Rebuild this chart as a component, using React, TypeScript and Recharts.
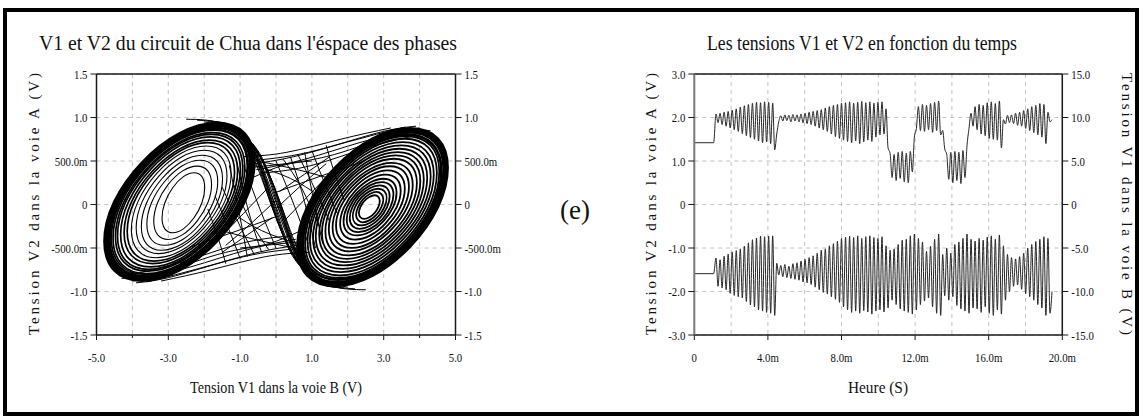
import React from 'react';
import {
  ScatterChart,
  Scatter,
  LineChart,
  Line,
  XAxis,
  YAxis,
  CartesianGrid,
  ReferenceLine,
} from 'recharts';

// ---------------- Phase portrait (V1 on x, V2 on y) ----------------
const phaseXTicks = [-5, -4, -3, -2, -1, 0, 1, 2, 3, 4, 5];
const phaseXLabels = ['-5.0', '', '-3.0', '', '-1.0', '', '1.0', '', '3.0', '', '5.0'];
const phaseYTicks = [-1.5, -1, -0.5, 0, 0.5, 1, 1.5];
const phaseYLabels = ['-1.5', '-1.0', '-500.0m', '0', '500.0m', '1.0', '1.5'];

// loops of the left scroll (V1, V2), inner to outer
const leftScrollLoops: [number, number][][] = [
  [[-1.96, 0.38], [-1.96, 0.02], [-2.58, -0.34], [-3.2, -0.34], [-3.2, 0.02], [-2.58, 0.38]],
  [[-1.76, 0.46], [-1.76, 0.02], [-2.6, -0.42], [-3.44, -0.42], [-3.44, 0.02], [-2.6, 0.46]],
  [[-1.58, 0.53], [-1.58, 0.02], [-2.61, -0.49], [-3.64, -0.49], [-3.64, 0.02], [-2.61, 0.53]],
  [[-1.44, 0.59], [-1.44, 0.02], [-2.62, -0.55], [-3.8, -0.55], [-3.8, 0.02], [-2.62, 0.59]],
  [[-1.31, 0.65], [-1.31, 0.03], [-2.63, -0.59], [-3.95, -0.59], [-3.95, 0.03], [-2.63, 0.65]],
  [[-1.19, 0.7], [-1.19, 0.03], [-2.64, -0.64], [-4.09, -0.64], [-4.09, 0.03], [-2.64, 0.7]],
  [[-1.09, 0.74], [-1.09, 0.03], [-2.65, -0.68], [-4.21, -0.68], [-4.21, 0.03], [-2.65, 0.74]],
  [[-1.0, 0.77], [-1.0, 0.03], [-2.65, -0.71], [-4.3, -0.71], [-4.3, 0.03], [-2.65, 0.77]],
  [[-0.92, 0.81], [-0.92, 0.03], [-2.66, -0.75], [-4.4, -0.75], [-4.4, 0.03], [-2.66, 0.81]],
  [[-0.85, 0.84], [-0.85, 0.03], [-2.67, -0.78], [-4.49, -0.78], [-4.49, 0.03], [-2.67, 0.84]],
  [[-0.79, 0.86], [-0.79, 0.03], [-2.67, -0.8], [-4.55, -0.8], [-4.55, 0.03], [-2.67, 0.86]],
  [[-0.72, 0.89], [-0.72, 0.03], [-2.67, -0.83], [-4.62, -0.83], [-4.62, 0.03], [-2.67, 0.89]],
  [[-0.69, 0.9], [-0.69, 0.03], [-2.68, -0.84], [-4.67, -0.84], [-4.67, 0.03], [-2.68, 0.9]],
  [[-0.64, 0.92], [-0.64, 0.03], [-2.68, -0.86], [-4.72, -0.86], [-4.72, 0.03], [-2.68, 0.92]],
  [[-0.6, 0.94], [-0.6, 0.03], [-2.68, -0.88], [-4.76, -0.88], [-4.76, 0.03], [-2.68, 0.94]],
  [[-0.57, 0.95], [-0.57, 0.03], [-2.69, -0.89], [-4.81, -0.89], [-4.81, 0.03], [-2.69, 0.95]],
  [[-0.54, 0.96], [-0.54, 0.03], [-2.69, -0.9], [-4.84, -0.9], [-4.84, 0.03], [-2.69, 0.96]],
  [[-0.51, 0.975], [-0.51, 0.03], [-2.69, -0.915], [-4.87, -0.915], [-4.87, 0.03], [-2.69, 0.975]],
];

// loops of the right scroll (V1, V2), inner to outer
const rightScrollLoops: [number, number][][] = [
  [[2.9, 0.11], [2.9, -0.03], [2.6, -0.17], [2.3, -0.17], [2.3, -0.03], [2.6, 0.11]],
  [[3.0, 0.15], [3.0, -0.03], [2.61, -0.21], [2.22, -0.21], [2.22, -0.03], [2.61, 0.15]],
  [[3.1, 0.19], [3.1, -0.03], [2.61, -0.25], [2.12, -0.25], [2.12, -0.03], [2.61, 0.19]],
  [[3.19, 0.23], [3.19, -0.03], [2.61, -0.29], [2.03, -0.29], [2.03, -0.03], [2.61, 0.23]],
  [[3.3, 0.27], [3.3, -0.03], [2.62, -0.33], [1.94, -0.33], [1.94, -0.03], [2.62, 0.27]],
  [[3.39, 0.31], [3.39, -0.03], [2.62, -0.37], [1.85, -0.37], [1.85, -0.03], [2.62, 0.31]],
  [[3.51, 0.36], [3.51, -0.03], [2.63, -0.42], [1.75, -0.42], [1.75, -0.03], [2.63, 0.36]],
  [[3.63, 0.41], [3.63, -0.03], [2.63, -0.47], [1.63, -0.47], [1.63, -0.03], [2.63, 0.41]],
  [[3.75, 0.46], [3.75, -0.03], [2.64, -0.52], [1.53, -0.52], [1.53, -0.03], [2.64, 0.46]],
  [[3.86, 0.5], [3.86, -0.03], [2.64, -0.56], [1.42, -0.56], [1.42, -0.03], [2.64, 0.5]],
  [[3.98, 0.55], [3.98, -0.03], [2.65, -0.61], [1.32, -0.61], [1.32, -0.03], [2.65, 0.55]],
  [[4.08, 0.59], [4.08, -0.03], [2.65, -0.65], [1.22, -0.65], [1.22, -0.03], [2.65, 0.59]],
  [[4.18, 0.63], [4.18, -0.03], [2.66, -0.69], [1.14, -0.69], [1.14, -0.03], [2.66, 0.63]],
  [[4.28, 0.67], [4.28, -0.03], [2.66, -0.73], [1.04, -0.73], [1.04, -0.03], [2.66, 0.67]],
  [[4.38, 0.71], [4.38, -0.03], [2.67, -0.77], [0.96, -0.77], [0.96, -0.03], [2.67, 0.71]],
  [[4.47, 0.75], [4.47, -0.03], [2.67, -0.81], [0.87, -0.81], [0.87, -0.03], [2.67, 0.75]],
  [[4.56, 0.79], [4.56, -0.03], [2.68, -0.85], [0.8, -0.85], [0.8, -0.03], [2.68, 0.79]],
  [[4.63, 0.82], [4.63, -0.03], [2.68, -0.88], [0.73, -0.88], [0.73, -0.03], [2.68, 0.82]],
  [[4.69, 0.84], [4.69, -0.03], [2.68, -0.9], [0.67, -0.9], [0.67, -0.03], [2.68, 0.84]],
  [[4.76, 0.87], [4.76, -0.03], [2.69, -0.93], [0.62, -0.93], [0.62, -0.03], [2.69, 0.87]],
  [[4.8, 0.88], [4.8, -0.03], [2.69, -0.94], [0.58, -0.94], [0.58, -0.03], [2.69, 0.88]],
  [[4.83, 0.9], [4.83, -0.03], [2.69, -0.96], [0.55, -0.96], [0.55, -0.03], [2.69, 0.9]],
  [[4.87, 0.915], [4.87, -0.03], [2.69, -0.975], [0.51, -0.975], [0.51, -0.03], [2.69, 0.915]],
];

// trajectories crossing between the two scrolls
const crossingPaths: [number, number][][] = [
  [[-1.6, 0.93], [-0.7, 0.72], [-0.1, 0.25], [0.45, -0.45], [1.0, -0.85], [1.7, -0.95]],
  [[-1.2, 0.86], [-0.45, 0.55], [0.1, 0.0], [0.6, -0.6], [1.3, -0.9], [2.2, -0.97]],
  [[-2.0, 0.95], [-0.9, 0.8], [-0.3, 0.35], [0.3, -0.3], [0.8, -0.75], [1.4, -0.93]],
  [[-1.4, 0.9], [-0.6, 0.66], [-0.05, 0.15], [0.5, -0.5], [1.1, -0.88], [1.9, -0.96]],
  [[-1.0, 0.82], [-0.35, 0.48], [0.2, -0.1], [0.7, -0.65], [1.5, -0.93], [2.5, -0.98]],
  [[-0.8, 0.75], [-0.25, 0.4], [0.3, -0.2], [0.8, -0.7], [1.7, -0.95]],
  [[-1.8, 0.94], [-0.8, 0.76], [-0.2, 0.3], [0.35, -0.38], [0.9, -0.8], [1.6, -0.95]],
  [[-0.65, 0.7], [-0.15, 0.3], [0.4, -0.3], [0.95, -0.75], [1.8, -0.96]],
  [[1.6, -0.93], [0.7, -0.72], [0.1, -0.25], [-0.45, 0.45], [-1.0, 0.85], [-1.7, 0.95]],
  [[1.2, -0.86], [0.45, -0.55], [-0.1, 0.0], [-0.6, 0.6], [-1.3, 0.9], [-2.2, 0.97]],
  [[2.0, -0.95], [0.9, -0.8], [0.3, -0.35], [-0.3, 0.3], [-0.8, 0.75], [-1.4, 0.93]],
  [[1.4, -0.9], [0.6, -0.66], [0.05, -0.15], [-0.5, 0.5], [-1.1, 0.88], [-1.9, 0.96]],
  [[1.0, -0.82], [0.35, -0.48], [-0.2, 0.1], [-0.7, 0.65], [-1.5, 0.93], [-2.5, 0.98]],
  [[0.8, -0.75], [0.25, -0.4], [-0.3, 0.2], [-0.8, 0.7], [-1.7, 0.95]],
  [[1.8, -0.94], [0.8, -0.76], [0.2, -0.3], [-0.35, 0.38], [-0.9, 0.8], [-1.6, 0.95]],
  [[0.65, -0.7], [0.15, -0.3], [-0.4, 0.3], [-0.95, 0.75], [-1.8, 0.96]],
  [[-0.75, 0.46], [0.5, 0.55], [2.0, 0.72], [3.6, 0.89]],
  [[-0.55, 0.4], [0.8, 0.52], [2.4, 0.72], [4.0, 0.88]],
  [[-0.9, 0.55], [0.3, 0.6], [1.8, 0.75], [3.2, 0.88]],
  [[-0.4, 0.36], [1.0, 0.45], [2.6, 0.66], [4.2, 0.82]],
  [[-0.8, 0.5], [0.9, 0.6], [2.8, 0.82], [3.9, 0.9]],
  [[-0.6, 0.43], [1.4, 0.55], [3.0, 0.76], [4.3, 0.85]],
  [[0.75, -0.46], [-0.5, -0.55], [-2.0, -0.72], [-3.6, -0.89]],
  [[0.55, -0.4], [-0.8, -0.52], [-2.4, -0.72], [-4.0, -0.88]],
  [[0.9, -0.55], [-0.3, -0.6], [-1.8, -0.75], [-3.2, -0.88]],
  [[0.4, -0.36], [-1.0, -0.45], [-2.6, -0.66], [-4.2, -0.82]],
  [[0.8, -0.5], [-0.9, -0.6], [-2.8, -0.82], [-3.9, -0.9]],
  [[0.6, -0.43], [-1.4, -0.55], [-3.0, -0.76], [-4.3, -0.85]],
  [[0.0, 0.5], [0.45, 0.05], [0.9, -0.45]],
  [[0.4, 0.55], [0.75, 0.1], [1.1, -0.5]],
  [[0.8, 0.6], [1.0, 0.15], [1.3, -0.45]],
  [[0.2, 0.52], [0.7, 0.2], [1.2, -0.25]],
  [[0.6, 0.58], [1.0, 0.25], [1.5, -0.2]],
  [[1.0, 0.62], [1.3, 0.3], [1.7, -0.1]],
  [[1.4, 0.68], [1.6, 0.4], [1.9, 0.05]],
  [[-0.6, 0.45], [0.4, 0.3], [1.2, 0.1]],
  [[-0.5, 0.5], [0.6, 0.4], [1.5, 0.3]],
  [[0.0, -0.05], [0.7, 0.22], [1.4, 0.47]],
  [[0.2, -0.2], [0.9, 0.1], [1.6, 0.4]],
  [[0.1, 0.15], [0.8, 0.35], [1.5, 0.55]],
  [[0.0, -0.5], [-0.45, -0.05], [-0.9, 0.45]],
  [[-0.4, -0.55], [-0.75, -0.1], [-1.1, 0.5]],
  [[-0.8, -0.6], [-1.0, -0.15], [-1.3, 0.45]],
  [[-0.2, -0.52], [-0.7, -0.2], [-1.2, 0.25]],
  [[-0.6, -0.58], [-1.0, -0.25], [-1.5, 0.2]],
  [[-1.0, -0.62], [-1.3, -0.3], [-1.7, 0.1]],
  [[-1.4, -0.68], [-1.6, -0.4], [-1.9, -0.05]],
  [[0.6, -0.45], [-0.4, -0.3], [-1.2, -0.1]],
  [[0.5, -0.5], [-0.6, -0.4], [-1.5, -0.3]],
  [[0.0, 0.05], [-0.7, -0.22], [-1.4, -0.47]],
  [[-0.2, 0.2], [-0.9, -0.1], [-1.6, -0.4]],
  [[-0.1, -0.15], [-0.8, -0.35], [-1.5, -0.55]],
  [[-2.4, -0.49], [-1.2, -0.32], [0.0, -0.14]],
  [[2.4, 0.49], [1.2, 0.32], [0.0, 0.14]],
  [[-0.7, 0.3], [0.2, 0.45], [1.0, 0.5]],
  [[0.7, -0.3], [-0.2, -0.45], [-1.0, -0.5]],
];

// ---------------- Time traces ----------------
const timeXTicks = [0, 2, 4, 6, 8, 10, 12, 14, 16, 18, 20];
const timeXLabels = ['0', '', '4.0m', '', '8.0m', '', '12.0m', '', '16.0m', '', '20.0m'];
const v2AxisTicks = [-3, -2, -1, 0, 1, 2, 3];
const v2AxisLabels = ['-3.0', '-2.0', '-1.0', '0', '1.0', '2.0', '3.0'];
const v1AxisTicks = [-15, -10, -5, 0, 5, 10, 15];
const v1AxisLabels = ['-15.0', '-10.0', '-5.0', '0', '5.0', '10.0', '15.0'];

// time in ms
const timeMs = [
  0, 1.05,
  1.18, 1.29, 1.4, 1.51, 1.62, 1.73, 1.84, 1.95, 2.06, 2.17,
  2.28, 2.39, 2.5, 2.61, 2.72, 2.83, 2.94, 3.05, 3.16, 3.27,
  3.38, 3.49, 3.6, 3.71, 3.82, 3.93, 4.04, 4.15, 4.26, 4.37,
  4.48, 4.59, 4.7, 4.81, 4.92, 5.03, 5.14, 5.25, 5.36, 5.47,
  5.58, 5.69, 5.8, 5.91, 6.02, 6.13, 6.24, 6.35, 6.46, 6.57,
  6.68, 6.79, 6.9, 7.01, 7.12, 7.23, 7.34, 7.45, 7.56, 7.67,
  7.78, 7.89, 8.0, 8.11, 8.22, 8.33, 8.44, 8.55, 8.66, 8.77,
  8.88, 8.99, 9.1, 9.21, 9.32, 9.43, 9.54, 9.65, 9.76, 9.87,
  9.98, 10.09, 10.2, 10.31, 10.42, 10.53, 10.64, 10.75, 10.86, 10.97,
  11.08, 11.19, 11.3, 11.41, 11.52, 11.63, 11.74, 11.85, 11.96, 12.07,
  12.18, 12.29, 12.4, 12.51, 12.62, 12.73, 12.84, 12.95, 13.06, 13.17,
  13.28, 13.39, 13.5, 13.61, 13.72, 13.83, 13.94, 14.05, 14.16, 14.27,
  14.38, 14.49, 14.6, 14.71, 14.82, 14.93, 15.04, 15.15, 15.26, 15.37,
  15.48, 15.59, 15.7, 15.81, 15.92, 16.03, 16.14, 16.25, 16.36, 16.47,
  16.58, 16.69, 16.8, 16.91, 17.02, 17.13, 17.24, 17.35, 17.46, 17.57,
  17.68, 17.79, 17.9, 18.01, 18.12, 18.23, 18.34, 18.45, 18.56, 18.67,
  18.78, 18.89, 19.0, 19.11, 19.22, 19.33, 19.44,
];

// V1 (voie B, right axis, volts)
const v1Volts = [
  7.1, 7.1,
  10.4, 9.4, 10.5, 9.2, 10.6, 9.0, 10.7, 8.8, 10.85, 8.6,
  11.0, 8.4, 11.2, 8.15, 11.35, 7.9, 11.5, 7.7, 11.65, 7.5,
  11.75, 7.3, 11.7, 7.1, 11.8, 7.2, 11.75, 7.0, 11.65, 6.3,
  8.1, 9.5, 10.2, 9.6, 10.3, 9.65, 10.25, 9.5, 10.35, 9.6,
  10.3, 9.5, 10.4, 9.4, 10.5, 9.3, 10.6, 9.2, 10.7, 9.0,
  10.8, 8.8, 10.9, 8.6, 11.1, 8.4, 11.25, 8.1, 11.4, 7.8,
  11.5, 7.6, 11.65, 7.4, 11.7, 7.25, 11.8, 7.1, 11.65, 7.3,
  11.75, 7.0, 11.85, 7.2, 11.7, 7.4, 11.8, 7.25, 11.65, 7.75,
  11.75, 8.0, 11.8, 8.1, 11.0, 6.5, 5.9, 3.1, 5.75, 2.75,
  6.0, 3.0, 6.1, 2.6, 5.9, 2.5, 6.1, 3.75, 7.75, 8.75,
  11.25, 8.5, 11.5, 8.4, 11.4, 8.6, 11.6, 8.3, 11.75, 8.5,
  11.9, 8.0, 8.5, 6.4, 5.75, 2.9, 6.0, 2.5, 6.1, 2.75,
  6.0, 2.4, 6.2, 3.1, 6.75, 8.75, 10.5, 9.0, 11.25, 8.6,
  11.5, 8.1, 11.4, 7.9, 11.7, 7.6, 11.8, 7.5, 11.6, 7.4,
  11.9, 6.5, 9.75, 9.25, 10.25, 9.4, 10.3, 9.3, 10.5, 9.1,
  10.6, 9.0, 10.8, 8.75, 11.0, 8.5, 11.25, 8.25, 11.4, 8.0,
  11.6, 7.75, 11.5, 7.0, 10.6, 9.5, 9.75,
];

// V2 (voie A, left axis, volts)
const v2Volts = [
  -1.59, -1.59,
  -1.23, -1.88, -1.27, -1.92, -1.19, -1.96, -1.14, -2.04, -1.09, -2.09,
  -1.06, -2.12, -1.02, -2.15, -0.96, -2.23, -0.88, -2.31, -0.81, -2.35,
  -0.77, -2.42, -0.73, -2.45, -0.74, -2.48, -0.73, -2.5, -0.72, -2.55,
  -1.35, -1.62, -1.4, -1.66, -1.38, -1.68, -1.42, -1.7, -1.36, -1.72,
  -1.34, -1.74, -1.3, -1.78, -1.26, -1.8, -1.22, -1.84, -1.18, -1.9,
  -1.12, -1.96, -1.05, -2.02, -1.02, -2.06, -0.95, -2.12, -0.9, -2.18,
  -0.84, -2.25, -0.78, -2.35, -0.75, -2.42, -0.73, -2.48, -0.76, -2.45,
  -0.72, -2.5, -0.78, -2.44, -0.74, -2.47, -0.72, -2.52, -0.76, -2.45,
  -0.78, -2.42, -0.74, -2.47, -0.95, -2.38, -1.05, -2.2, -1.02, -2.3,
  -0.92, -2.4, -0.82, -2.45, -0.8, -2.48, -0.72, -2.52, -0.68, -2.42,
  -0.78, -2.3, -0.86, -2.22, -1.08, -2.15, -0.96, -2.35, -0.8, -2.5,
  -0.68, -2.55, -1.15, -2.1, -1.0, -2.2, -1.12, -2.12, -0.92, -2.32,
  -0.86, -2.4, -0.78, -2.45, -0.68, -2.5, -0.8, -2.38, -0.84, -2.4,
  -0.78, -2.48, -0.82, -2.35, -0.75, -2.5, -0.72, -2.55, -0.8, -2.42,
  -0.7, -2.52, -0.95, -2.2, -1.15, -2.0, -1.22, -1.88, -1.25, -1.85,
  -1.2, -1.95, -1.12, -2.05, -1.0, -2.12, -0.92, -2.2, -0.85, -2.3,
  -0.8, -2.38, -0.74, -2.55, -0.78, -2.5, -2.0,
];

// ---------------- helpers ----------------
const SERIF = "'Liberation Serif', 'Times New Roman', serif";
const GRID = '#c2c2c2';
const INK = '#1a1a1a';

const toPoints = (arr: [number, number][]) => arr.map(([x, y]) => ({ x, y }));

const timeRows = timeMs.map((t, i) => ({ t, v1: v1Volts[i], v2: v2Volts[i] }));

const NoDot = () => <g />;

const labelText = (x: number, y: number, anchor: string, label: string) => (
  <text
    transform={`translate(${x},${y}) scale(0.8,1)`}
    textAnchor={anchor}
    fontFamily={SERIF}
    fontSize={13.5}
    fill="#111"
  >
    {label}
  </text>
);

const makeBottomTick = (ticks: number[], labels: string[], minorLen: number) => (props: any) => {
  const { x, y, payload } = props;
  const i = ticks.indexOf(payload.value);
  const label = i >= 0 ? labels[i] : '';
  const len = label ? 5 : minorLen;
  return (
    <g>
      {len > 0 && <line x1={x} y1={y} x2={x} y2={y + len} stroke={INK} strokeWidth={1} />}
      {label ? labelText(x, y + 27, 'middle', label) : null}
    </g>
  );
};

const makeLeftTick = (ticks: number[], labels: string[]) => (props: any) => {
  const { x, y, payload } = props;
  const i = ticks.indexOf(payload.value);
  const label = i >= 0 ? labels[i] : '';
  return (
    <g>
      <line x1={x - 6} y1={y} x2={x} y2={y} stroke={INK} strokeWidth={1} />
      {labelText(x - 9, y + 4.5, 'end', label)}
    </g>
  );
};

const makeRightTick = (ticks: number[], labels: string[]) => (props: any) => {
  const { x, y, payload } = props;
  const i = ticks.indexOf(payload.value);
  const label = i >= 0 ? labels[i] : '';
  return (
    <g>
      <line x1={x} y1={y} x2={x + 6} y2={y} stroke={INK} strokeWidth={1} />
      {labelText(x + 9, y + 4.5, 'start', label)}
    </g>
  );
};

const leftLoopWidth = (i: number, n: number) => (i >= n - 5 ? 2.5 : i >= 6 ? 1.7 : 1.1);
const rightLoopWidth = (i: number, n: number) => (i >= n - 5 ? 2.7 : 1.8);

function PhaseChart() {
  const nL = leftScrollLoops.length;
  const nR = rightScrollLoops.length;
  return (
    <ScatterChart width={560} height={420} margin={{ top: 74, right: 0, bottom: 0, left: 0 }}>
      <CartesianGrid stroke={GRID} strokeDasharray="4 4" />
      <XAxis
        type="number"
        dataKey="x"
        domain={[-5, 5]}
        ticks={phaseXTicks}
        interval={0}
        height={85}
        tickSize={0}
        tickMargin={0}
        tickLine={false}
        axisLine={{ stroke: INK, strokeWidth: 1.5 }}
        tick={makeBottomTick(phaseXTicks, phaseXLabels, 3)}
        allowDataOverflow
      />
      <YAxis
        type="number"
        dataKey="y"
        domain={[-1.5, 1.5]}
        ticks={phaseYTicks}
        interval={0}
        width={96.5}
        tickSize={0}
        tickMargin={0}
        tickLine={false}
        axisLine={{ stroke: INK, strokeWidth: 1.5 }}
        tick={makeLeftTick(phaseYTicks, phaseYLabels)}
        allowDataOverflow
      />
      <YAxis
        yAxisId="r"
        orientation="right"
        type="number"
        dataKey="y"
        domain={[-1.5, 1.5]}
        ticks={phaseYTicks}
        interval={0}
        width={104.5}
        tickSize={0}
        tickMargin={0}
        tickLine={false}
        axisLine={{ stroke: INK, strokeWidth: 1.5 }}
        tick={makeRightTick(phaseYTicks, phaseYLabels)}
        allowDataOverflow
      />
      <ReferenceLine y={1.5} stroke={INK} strokeWidth={1.5} />
      {crossingPaths.map((path, i) => (
        <Scatter
          key={`c${i}`}
          yAxisId={i === 0 ? 'r' : undefined}
          data={toPoints(path)}
          line={{ stroke: '#000', strokeWidth: 1 }}
          lineJointType="natural"
          shape={NoDot}
          isAnimationActive={false}
        />
      ))}
      {leftScrollLoops.map((loop, i) => (
        <Scatter
          key={`l${i}`}
          data={toPoints(loop)}
          line={{ stroke: '#000', strokeWidth: leftLoopWidth(i, nL) }}
          lineJointType="basisClosed"
          shape={NoDot}
          isAnimationActive={false}
        />
      ))}
      {rightScrollLoops.map((loop, i) => (
        <Scatter
          key={`r${i}`}
          data={toPoints(loop)}
          line={{ stroke: '#000', strokeWidth: rightLoopWidth(i, nR) }}
          lineJointType="basisClosed"
          shape={NoDot}
          isAnimationActive={false}
        />
      ))}
    </ScatterChart>
  );
}

function TimeChart() {
  return (
    <LineChart width={583} height={420} data={timeRows} margin={{ top: 74, right: 0, bottom: 0, left: 0 }}>
      <CartesianGrid stroke={GRID} strokeDasharray="4 4" />
      <XAxis
        type="number"
        dataKey="t"
        domain={[0, 20]}
        ticks={timeXTicks}
        interval={0}
        height={85}
        tickSize={0}
        tickMargin={0}
        tickLine={false}
        axisLine={{ stroke: INK, strokeWidth: 1.5 }}
        tick={makeBottomTick(timeXTicks, timeXLabels, 0)}
        allowDataOverflow
      />
      <YAxis
        type="number"
        domain={[-3, 3]}
        ticks={v2AxisTicks}
        interval={0}
        width={134.3}
        tickSize={0}
        tickMargin={0}
        tickLine={false}
        axisLine={{ stroke: '#7a7a7a', strokeWidth: 2 }}
        tick={makeLeftTick(v2AxisTicks, v2AxisLabels)}
        allowDataOverflow
      />
      <YAxis
        yAxisId="r"
        orientation="right"
        type="number"
        domain={[-15, 15]}
        ticks={v1AxisTicks}
        interval={0}
        width={80.7}
        tickSize={0}
        tickMargin={0}
        tickLine={false}
        axisLine={{ stroke: INK, strokeWidth: 1.5 }}
        tick={makeRightTick(v1AxisTicks, v1AxisLabels)}
        allowDataOverflow
      />
      <ReferenceLine y={3} stroke={INK} strokeWidth={1.5} />
      <Line
        yAxisId="r"
        dataKey="v1"
        type="monotone"
        stroke="#262626"
        strokeWidth={1}
        dot={false}
        activeDot={false}
        isAnimationActive={false}
      />
      <Line
        dataKey="v2"
        type="monotone"
        stroke="#262626"
        strokeWidth={1}
        dot={false}
        activeDot={false}
        isAnimationActive={false}
      />
    </LineChart>
  );
}

export default function App() {
  return (
    <div style={{ position: 'absolute', left: 0, top: 0, width: 1143, height: 420, background: '#fff', overflow: 'hidden' }}>
      <div style={{ position: 'absolute', left: 0, top: 0 }}>
        <PhaseChart />
      </div>
      <div style={{ position: 'absolute', left: 560, top: 0 }}>
        <TimeChart />
      </div>
      <svg
        width={1143}
        height={420}
        style={{ position: 'absolute', left: 0, top: 0, pointerEvents: 'none' }}
      >
        <rect x={5} y={10} width={1132} height={404} fill="none" stroke="#000" strokeWidth={4} />
        <text x={248} y={50} textAnchor="middle" fontFamily={SERIF} fontSize={20} fill="#111" textLength={418} lengthAdjust="spacingAndGlyphs">
          V1 et V2 du circuit de Chua dans l'éspace des phases
        </text>
        <text x={862} y={50} textAnchor="middle" fontFamily={SERIF} fontSize={20} fill="#111" textLength={310} lengthAdjust="spacingAndGlyphs">
          Les tensions V1 et V2 en fonction du temps
        </text>
        <text x={276} y={393} textAnchor="middle" fontFamily={SERIF} fontSize={16} fill="#111" textLength={172} lengthAdjust="spacingAndGlyphs">
          Tension V1 dans  la voie B (V)
        </text>
        <text x={878} y={393} textAnchor="middle" fontFamily={SERIF} fontSize={16} fill="#111" textLength={60} lengthAdjust="spacingAndGlyphs">
          Heure (S)
        </text>
        <text transform="translate(39,204) rotate(-90)" textAnchor="middle" fontFamily={SERIF} fontSize={15} fill="#111" textLength={262} lengthAdjust="spacing">
          Tension V2 dans la voie A (V)
        </text>
        <text transform="translate(656,204) rotate(-90)" textAnchor="middle" fontFamily={SERIF} fontSize={15} fill="#111" textLength={262} lengthAdjust="spacing">
          Tension V2 dans la voie A (V)
        </text>
        <text transform="translate(1122,204) rotate(90)" textAnchor="middle" fontFamily={SERIF} fontSize={15} fill="#111" textLength={262} lengthAdjust="spacing">
          Tension V1 dans la voie B (V)
        </text>
        <text x={575} y={219} textAnchor="middle" fontFamily={SERIF} fontSize={27} fill="#111">
          (e)
        </text>
      </svg>
    </div>
  );
}
